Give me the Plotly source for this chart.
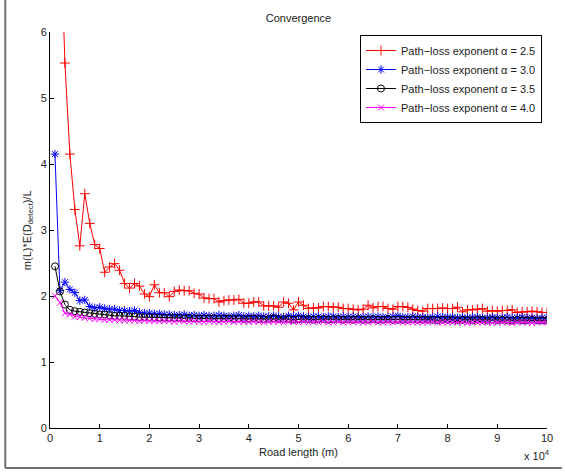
import plotly.graph_objects as go

road_length = [1000 * i for i in range(1, 101)]

alpha_25 = [
    12.0, 7.90, 5.53, 4.15, 3.31, 2.76, 3.55, 3.10, 2.78, 2.72,
    2.36, 2.44, 2.49, 2.39, 2.19, 2.12, 2.19, 2.15, 2.03, 1.99,
    2.17, 2.05, 2.05, 1.99, 2.07, 2.09, 2.08, 2.08, 2.04, 2.03,
    1.97, 1.96, 1.96, 1.91, 1.93, 1.94, 1.94, 1.95, 1.89, 1.89,
    1.91, 1.91, 1.85, 1.85, 1.85, 1.83, 1.91, 1.89, 1.79, 1.91,
    1.86, 1.81, 1.82, 1.82, 1.84, 1.84, 1.83, 1.83, 1.81, 1.81,
    1.80, 1.79, 1.80, 1.86, 1.82, 1.84, 1.84, 1.81, 1.80, 1.84,
    1.84, 1.83, 1.80, 1.78, 1.77, 1.81, 1.81, 1.81, 1.82, 1.81,
    1.81, 1.83, 1.76, 1.79, 1.79, 1.80, 1.81, 1.77, 1.78, 1.77,
    1.78, 1.78, 1.79, 1.75, 1.76, 1.76, 1.77, 1.76, 1.75, 1.75,
]
alpha_30 = [
    4.15, 2.08, 2.21, 2.10, 2.05, 1.93, 1.94, 1.84, 1.82, 1.83,
    1.81, 1.80, 1.80, 1.78, 1.78, 1.77, 1.78, 1.75, 1.74, 1.74,
    1.73, 1.73, 1.72, 1.72, 1.71, 1.71, 1.72, 1.70, 1.71, 1.70,
    1.71, 1.70, 1.70, 1.71, 1.70, 1.69, 1.70, 1.71, 1.69, 1.70,
    1.69, 1.70, 1.69, 1.69, 1.70, 1.69, 1.68, 1.70, 1.69, 1.70,
    1.69, 1.68, 1.69, 1.69, 1.68, 1.69, 1.69, 1.68, 1.69, 1.68,
    1.69, 1.68, 1.68, 1.69, 1.68, 1.69, 1.68, 1.68, 1.69, 1.70,
    1.68, 1.68, 1.69, 1.68, 1.68, 1.67, 1.68, 1.69, 1.68, 1.68,
    1.68, 1.67, 1.68, 1.67, 1.68, 1.68, 1.67, 1.67, 1.68, 1.67,
    1.67, 1.68, 1.67, 1.67, 1.68, 1.67, 1.67, 1.66, 1.67, 1.67,
]
alpha_35 = [
    2.45, 2.07, 1.87, 1.79, 1.77, 1.76, 1.75, 1.74, 1.73, 1.72,
    1.72, 1.71, 1.70, 1.70, 1.70, 1.69, 1.69, 1.68, 1.68, 1.68,
    1.68, 1.67, 1.67, 1.67, 1.67, 1.67, 1.66, 1.67, 1.66, 1.66,
    1.66, 1.66, 1.66, 1.65, 1.66, 1.66, 1.65, 1.66, 1.65, 1.65,
    1.66, 1.65, 1.65, 1.65, 1.66, 1.65, 1.65, 1.65, 1.64, 1.65,
    1.65, 1.65, 1.64, 1.65, 1.65, 1.64, 1.65, 1.65, 1.64, 1.65,
    1.64, 1.65, 1.64, 1.64, 1.65, 1.64, 1.64, 1.65, 1.64, 1.64,
    1.64, 1.64, 1.65, 1.64, 1.64, 1.64, 1.64, 1.63, 1.64, 1.64,
    1.64, 1.63, 1.64, 1.64, 1.63, 1.64, 1.64, 1.63, 1.64, 1.63,
    1.64, 1.63, 1.63, 1.64, 1.63, 1.63, 1.64, 1.63, 1.63, 1.63,
]
alpha_40 = [
    2.00, 1.90, 1.74, 1.72, 1.69, 1.68, 1.67, 1.66, 1.65, 1.65,
    1.64, 1.64, 1.64, 1.63, 1.63, 1.63, 1.63, 1.62, 1.63, 1.62,
    1.62, 1.62, 1.62, 1.62, 1.61, 1.62, 1.62, 1.61, 1.62, 1.61,
    1.61, 1.62, 1.61, 1.61, 1.61, 1.62, 1.61, 1.61, 1.61, 1.61,
    1.61, 1.61, 1.60, 1.61, 1.61, 1.61, 1.60, 1.61, 1.61, 1.60,
    1.61, 1.60, 1.61, 1.60, 1.61, 1.60, 1.60, 1.61, 1.60, 1.60,
    1.61, 1.60, 1.60, 1.60, 1.61, 1.60, 1.60, 1.60, 1.60, 1.61,
    1.60, 1.60, 1.60, 1.60, 1.60, 1.60, 1.61, 1.60, 1.60, 1.60,
    1.60, 1.60, 1.60, 1.59, 1.60, 1.60, 1.60, 1.60, 1.59, 1.60,
    1.60, 1.60, 1.59, 1.60, 1.60, 1.60, 1.59, 1.60, 1.60, 1.60,
]

series_names = [
    "Path\u2212loss exponent \u03b1 = 2.5",
    "Path\u2212loss exponent \u03b1 = 3.0",
    "Path\u2212loss exponent \u03b1 = 3.5",
    "Path\u2212loss exponent \u03b1 = 4.0",
]
x_tick_vals = [10000 * i for i in range(11)]
x_tick_text = [str(i) for i in range(11)]
y_tick_vals = [0, 1, 2, 3, 4, 5, 6]

FONT = "Liberation Sans, Arial, Helvetica, sans-serif"
TXT = "#222222"

styles = [
    dict(color="#ff0000", symbol="cross-thin-open", size=7),
    dict(color="#0000ff", symbol="asterisk-open", size=7),
    dict(color="#000000", symbol="circle-open", size=7),
    dict(color="#ff00ff", symbol="x-thin-open", size=6),
]

fig = go.Figure()
for name, ys, st in zip(series_names, [alpha_25, alpha_30, alpha_35, alpha_40], styles):
    fig.add_trace(go.Scatter(
        x=road_length, y=ys, name=name, mode="lines+markers",
        line=dict(color=st["color"], width=1),
        marker=dict(symbol=st["symbol"], size=st["size"], color=st["color"],
                    line=dict(color=st["color"], width=1)),
        cliponaxis=True,
    ))

W, H = 565, 472
L, R, T, B = 50, 15, 32, 44
pw, ph = W - L - R, H - T - B


def px_x(p):
    return (p - L) / pw


def px_y(p):
    return (H - B - p) / ph


fig.update_layout(
    width=W, height=H,
    margin=dict(l=L, r=R, t=T, b=B),
    paper_bgcolor="white", plot_bgcolor="white",
    font=dict(family=FONT, size=11, color=TXT),
    title=dict(text="Convergence", x=0.5, xref="paper", xanchor="center",
               y=1 - 18 / H, yref="container", yanchor="middle",
               font=dict(family=FONT, size=11, color=TXT)),
    showlegend=True,
    legend=dict(x=px_x(545), y=px_y(35), xanchor="right", yanchor="top",
                bgcolor="white", bordercolor="black", borderwidth=1,
                font=dict(family=FONT, size=11, color=TXT),
                tracegroupgap=0, itemwidth=30),
    xaxis=dict(range=[0, 100000], tickvals=x_tick_vals, ticktext=x_tick_text,
               ticks="inside", ticklen=4, tickcolor="black",
               showline=True, linecolor="black", linewidth=1,
               showgrid=False, zeroline=False,
               tickfont=dict(family=FONT, size=11, color=TXT)),
    yaxis=dict(range=[0, 6], tickvals=y_tick_vals,
               ticks="inside", ticklen=4, tickcolor="black",
               showline=True, linecolor="black", linewidth=1,
               showgrid=False, zeroline=False,
               tickfont=dict(family=FONT, size=11, color=TXT)),
    annotations=[
        dict(text="Road length (m)", x=0.5, y=px_y(452), xref="paper", yref="paper",
             xanchor="center", yanchor="middle", showarrow=False,
             font=dict(family=FONT, size=11, color=TXT)),
        dict(text="m(L)*E(D<sub>detect</sub>)/L", x=px_x(28), y=px_y(230),
             xref="paper", yref="paper", xanchor="center", yanchor="middle",
             textangle=-90, showarrow=False,
             font=dict(family=FONT, size=11, color=TXT)),
        dict(text="x 10<sup>4</sup>", x=px_x(540), y=px_y(455), xref="paper", yref="paper",
             xanchor="center", yanchor="middle", showarrow=False,
             font=dict(family=FONT, size=11, color=TXT)),
    ],
    shapes=[
        dict(type="line", xref="paper", yref="paper",
             x0=px_x(5), x1=px_x(5), y0=px_y(0), y1=px_y(468),
             line=dict(color="#707070", width=2)),
        dict(type="line", xref="paper", yref="paper",
             x0=px_x(5), x1=px_x(565), y0=px_y(468), y1=px_y(468),
             line=dict(color="#707070", width=2)),
    ],
)

fig.write_html(
    "out.html",
    config={"displayModeBar": False},
    post_script="document.body.style.margin='0px';document.body.style.overflow='hidden';",
)
